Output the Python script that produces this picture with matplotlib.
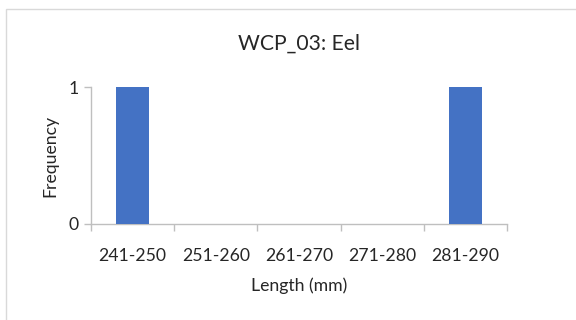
import matplotlib
matplotlib.use("Agg")
from matplotlib import pyplot as plt
from matplotlib.patches import Rectangle

# length classes and counts for the eel sample
length_bins = ['241-250', '251-260', '261-270', '271-280', '281-290']
frequency = [1, 0, 0, 0, 1]

plt.rcParams['font.family'] = ['Lato', 'DejaVu Sans']

fig = plt.figure(figsize=(5.76, 3.2), dpi=100)
fig.patch.set_facecolor('white')

# chart frame (top and left edges show)
fig.patches.append(Rectangle((6 / 576, -0.05), 1.0, 1 - 9 / 320 + 0.05, transform=fig.transFigure,
                             fill=False, edgecolor='#d9d9d9', linewidth=1.0))

ax = fig.add_axes([91 / 576, 1 - 224 / 320, 416 / 576, 137 / 320])
x = list(range(len(length_bins)))
ax.bar(x, frequency, width=0.4, color='#4472c4', zorder=3)

ax.set_xlim(-0.5, len(length_bins) - 0.5)
ax.set_ylim(0, 1)
ax.set_yticks([0, 1])
ax.set_xticks(x)
ax.set_xticklabels(length_bins, fontsize=12.7, color='#262626')
ax.set_xticks([i - 0.5 for i in range(len(length_bins) + 1)], minor=True)
ax.tick_params(axis='x', which='major', length=0, pad=17)
ax.tick_params(axis='x', which='minor', length=5, color='#bfbfbf', width=1)
ax.tick_params(axis='y', length=5, color='#bfbfbf', width=1, labelsize=12.7, labelcolor='#262626', pad=4)

for side in ['top', 'right']:
    ax.spines[side].set_visible(False)
for side in ['left', 'bottom']:
    ax.spines[side].set_color('#bfbfbf')
    ax.spines[side].set_linewidth(1)

ax.set_title('WCP_03: Eel', fontsize=15.2, color='#262626', pad=27)
ax.set_xlabel('Length (mm)', fontsize=12.7, color='#262626', labelpad=10)
ax.set_ylabel('Frequency', fontsize=12.7, color='#262626', labelpad=7)

plt.savefig('out.png', dpi=100)
